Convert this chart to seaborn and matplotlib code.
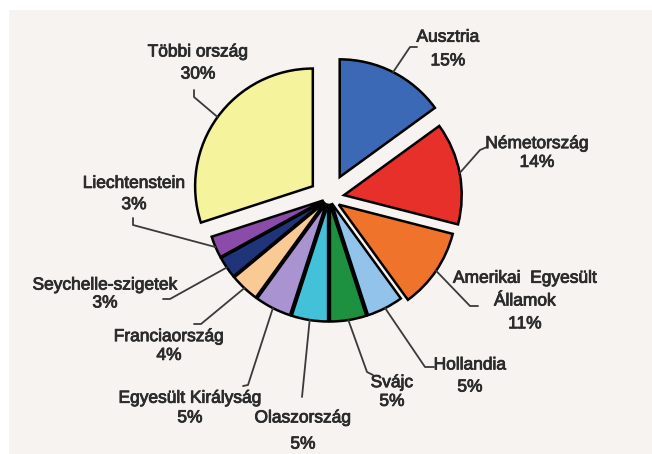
import numpy as np
import matplotlib.pyplot as plt
import matplotlib.patheffects as pe
import seaborn as sns
from matplotlib.patches import Rectangle
from matplotlib.lines import Line2D

# Data: share of countries (%)
countries = ['Ausztria', 'Németország', 'Amerikai  Egyesült\nÁllamok', 'Hollandia', 'Svájc',
             'Olaszország', 'Egyesült Királyság', 'Franciaország', 'Seychelle-szigetek',
             'Liechtenstein', 'Többi ország']
shares = [15, 14, 11, 5, 5, 5, 5, 4, 3, 3, 30]

colors = ['#3b69b5', '#e8302b', '#f0732c', '#92c3ea', '#1d9140', '#43c1d9',
          '#a993d1', '#f9ca93', '#1f3479', '#8b4ba9', '#f5f39c']
explode = [0.2, 0.13, 0.10, 0.05, 0.05, 0.05, 0.05, 0.05, 0.05, 0.05, 0.17]

# label block centre (px from top-left), elbow point, hook end, line spacing
label_pos = [(448, 49), (537, 153), (525, 301), (470, 376), (392, 392), (303, 431),
             (190, 408), (169, 346), (105, 294), (134, 194), (198, 63)]
elbows = [(410, 47), (480, 150), (470, 306), (425, 367), (367, 372), (302, 397),
          (248, 385), (201, 324), (170, 299), (133, 225), (194, 97)]
hooks = [(417, 47), (487, 147), (478, 306), (434, 367), (373, 375), (302, 397),
         (243, 386), (194, 324), (163, 299), (133, 218), (194, 90)]
spacing = [1.72, 1.31, 1.65, 1.59, 1.31, 1.93, 1.38, 1.31, 1.24, 1.52, 1.59]

sns.set_theme(style='white')
plt.rcParams['font.family'] = ['Liberation Sans', 'DejaVu Sans']

W, H = 652, 454
fig = plt.figure(figsize=(W / 100, H / 100), dpi=100, facecolor='white')
fig.add_artist(Rectangle((9 / W, 0), 1 - 9 / W, (H - 10) / H, transform=fig.transFigure,
                         facecolor='#f6f3f0', edgecolor='none', zorder=0))


def px(x, y):
    # pixel (from top-left) -> figure fraction
    return x / W, (H - y) / H


ax = fig.add_axes([176 / W, 103 / H, 306 / W, 306 / H])
ax.patch.set_visible(False)
wedges, _ = ax.pie(shares, explode=explode, colors=colors, startangle=90, counterclock=False,
                   wedgeprops=dict(edgecolor='black', linewidth=1.8))
ax.set_xlim(-1.3, 1.3)
ax.set_ylim(-1.3, 1.3)
ax.set_aspect('equal')

to_fig = fig.transFigure.inverted()
for w, name, val, pos, el, hk, ls in zip(wedges, countries, shares, label_pos, elbows, hooks, spacing):
    ang = np.deg2rad((w.theta1 + w.theta2) / 2)
    cx, cy = w.center
    anchor = ax.transData.transform((cx + w.r * np.cos(ang), cy + w.r * np.sin(ang)))
    ax_f, ay_f = to_fig.transform(anchor)
    ex, ey = px(*el)
    hx, hy = px(*hk)
    fig.add_artist(Line2D([ax_f, ex, hx], [ay_f, ey, hy], transform=fig.transFigure,
                          color='#3a3a3a', linewidth=1.3))
    tx, ty = px(*pos)
    fig.text(tx, ty, f'{name}\n{val}%', ha='center', va='center', fontsize=12.5,
             color='#2b2b2b', linespacing=ls, multialignment='center',
             path_effects=[pe.withStroke(linewidth=0.6, foreground='#2b2b2b')])

fig.savefig('out.png', dpi=100)
